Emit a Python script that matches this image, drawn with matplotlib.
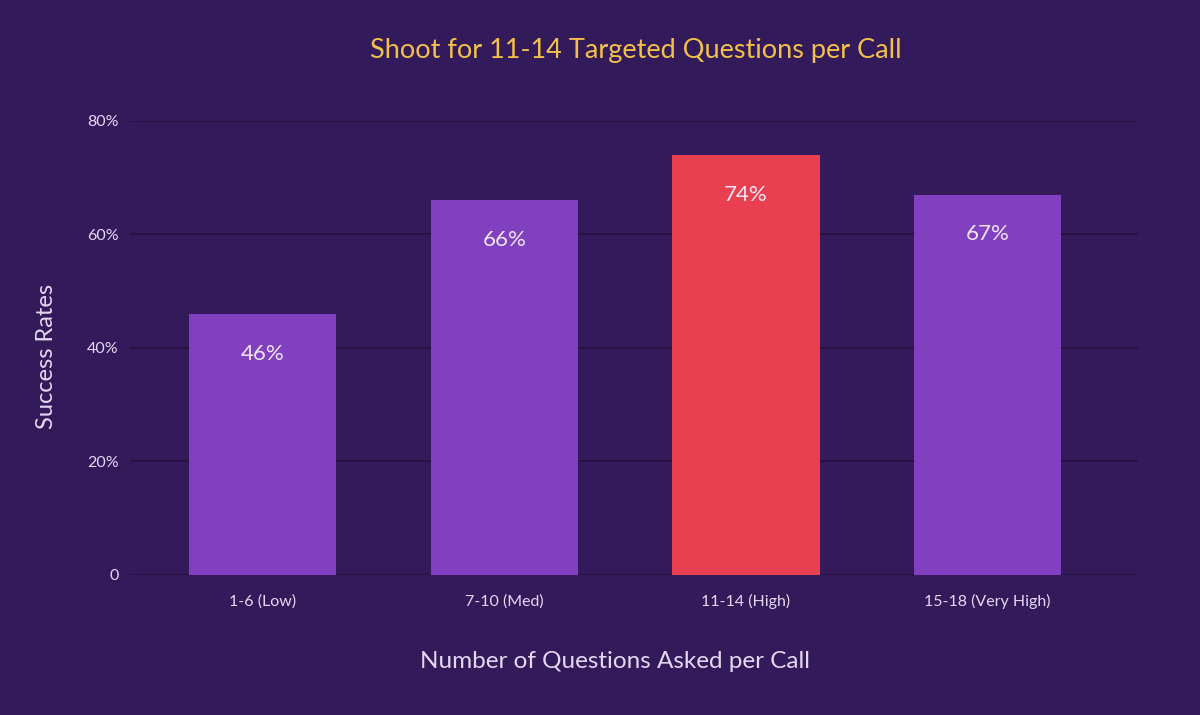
import matplotlib
matplotlib.use("Agg")
import matplotlib.pyplot as plt

categories = ["1-6 (Low)", "7-10 (Med)", "11-14 (High)", "15-18 (Very High)"]
success_rates = [0.46, 0.66, 0.74, 0.67]
value_labels = ["46%", "66%", "74%", "67%"]
y_ticks = [0, 0.2, 0.4, 0.6, 0.8]
y_tick_labels = ["0", "20%", "40%", "60%", "80%"]

BG = "#331a5a"
GRID = "#24113f"
PURPLE = "#8040c0"
RED = "#e84050"
TEXT = "#e6d8f2"
GOLD = "#f2c14a"

plt.rcParams["font.family"] = ["Lato", "DejaVu Sans"]

fig = plt.figure(figsize=(12, 7.15), dpi=100, facecolor=BG)
ax = fig.add_axes([0.108, 0.196, 0.84, 0.635], facecolor=BG)

colors = [RED if i == 2 else PURPLE for i in range(len(categories))]
x = range(len(categories))
ax.bar(x, success_rates, width=0.61, color=colors, zorder=3)

for xi, v, lab in zip(x, success_rates, value_labels):
    ax.text(xi, v - 0.07, lab, ha="center", va="center", fontsize=16,
            color="#f0e6f8", zorder=4)

ax.set_ylim(0, 0.8)
ax.set_xlim(-0.55, 3.62)
ax.set_yticks(y_ticks)
ax.set_yticklabels(y_tick_labels)
ax.set_xticks(list(x))
ax.set_xticklabels(categories)
ax.tick_params(axis="both", length=0, colors=TEXT, labelsize=11.5)
ax.tick_params(axis="x", pad=14)
ax.tick_params(axis="y", pad=8)
ax.grid(axis="y", color=GRID, linewidth=1.2, zorder=0)
for s in ax.spines.values():
    s.set_visible(False)

ax.set_ylabel("Success Rates", color=TEXT, fontsize=17)
ax.set_xlabel("Number of Questions Asked per Call", color=TEXT, fontsize=17.5)
ax.xaxis.set_label_coords(0.482, -0.167)
ax.yaxis.set_label_coords(-0.072, 0.48)
fig.text(0.53, 0.93, "Shoot for 11-14 Targeted Questions per Call",
         ha="center", va="center", color=GOLD, fontsize=19.5)

fig.savefig("out.png", dpi=100, facecolor=BG)
